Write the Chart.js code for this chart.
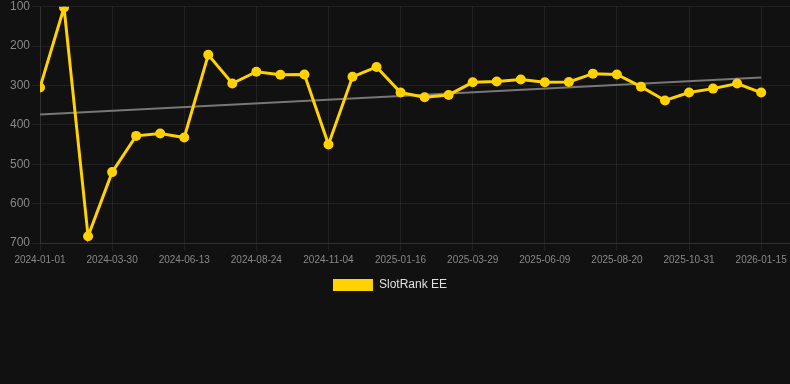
<!DOCTYPE html>
<html>
<head>
<meta charset="utf-8">
<script src="https://cdn.jsdelivr.net/npm/chart.js@4.4.0/dist/chart.umd.min.js"></script>
<style>
  html, body { margin: 0; padding: 0; background: #111111; }
  #wrap { width: 790px; height: 301px; position: relative; }
</style>
</head>
<body>
<div id="wrap"><canvas id="chart-rank"></canvas></div>
<script>
// SlotRank EE - rank history (lower is better, axis reversed)

const dates = [
  "2024-01-01", "2024-01-30", "2024-02-28", "2024-03-30", "2024-04-24", "2024-05-19",
  "2024-06-13", "2024-07-07", "2024-07-31", "2024-08-24", "2024-09-17", "2024-10-11",
  "2024-11-04", "2024-11-28", "2024-12-23", "2025-01-16", "2025-02-09", "2025-03-05",
  "2025-03-29", "2025-04-22", "2025-05-16", "2025-06-09", "2025-07-03", "2025-07-27",
  "2025-08-20", "2025-09-13", "2025-10-07", "2025-10-31", "2025-11-25", "2025-12-20",
  "2026-01-15"
];

const rankValues = [
  305, 102, 683, 520, 428, 422, 432, 222, 295, 265, 273,
  272, 450, 278, 253, 318, 330, 324, 292, 290, 285,
  292, 291, 270, 272, 303, 338, 318, 308, 295, 318
];

// trend line, first and last date
const trendIndex = [0, 30];
const trendValues = [374, 280];

const yTicks = [100, 200, 300, 400, 500, 600, 700];

const gridColor = "rgba(255,255,255,0.07)";

document.addEventListener("DOMContentLoaded", () => {
  renderRankChart();
});

function renderRankChart() {
  const points = rankValues.map((v, i) => ({ x: i, y: v }));
  const trend = trendIndex.map((x, i) => ({ x, y: trendValues[i] }));

  // legend sits a few px left of centre in the original
  const legendShift = {
    id: "legendShift",
    beforeDraw(chart) {
      const lg = chart.legend;
      if (!lg || lg._shifted) return;
      lg.left -= 5;
      lg.right -= 5;
      lg._shifted = true;
    }
  };

  new Chart(document.getElementById("chart-rank"), {
    type: "line",
    data: {
      datasets: [
        {
          label: "SlotRank EE",
          data: points,
          borderColor: "#ffd200",
          backgroundColor: "#ffd200",
          borderWidth: 3,
          pointRadius: 5,
          pointBackgroundColor: "#ffd200",
          pointBorderColor: "#ffd200",
          pointBorderWidth: 0,
          tension: 0,
          order: 1
        },
        {
          label: "trend",
          data: trend,
          borderColor: "#777777",
          borderWidth: 2,
          pointRadius: 0,
          fill: false,
          order: 2
        }
      ]
    },
    plugins: [legendShift],
    options: {
      responsive: true,
      maintainAspectRatio: false,
      animation: false,
      layout: { autoPadding: false, padding: 0 },
      plugins: {
        legend: {
          position: "bottom",
          labels: {
            color: "#e0e0e0",
            font: { size: 12 },
            boxWidth: 40,
            boxHeight: 12,
            filter: item => item.text !== "trend",
            generateLabels: chart => {
              const items = Chart.defaults.plugins.legend.labels.generateLabels(chart);
              items.forEach(it => { it.lineWidth = 0; });
              return items;
            }
          }
        },
        tooltip: { enabled: false }
      },
      scales: {
        x: {
          type: "linear",
          min: 0,
          max: 31.2,
          grid: { color: gridColor },
          border: { color: gridColor },
          afterFit: axis => { axis.paddingLeft = 0; axis.paddingRight = 0; },
          ticks: {
            stepSize: 3,
            includeBounds: false,
            autoSkip: false,
            maxRotation: 0,
            color: "#888888",
            font: { size: 10 },
            callback: v => dates[v] ?? null
          }
        },
        y: {
          reverse: true,
          min: yTicks[0],
          max: yTicks[yTicks.length - 1],
          grid: { color: gridColor },
          border: { color: gridColor },
          afterBuildTicks: axis => { axis.ticks = yTicks.map(v => ({ value: v })); },
          afterFit: axis => { axis.width = 40; axis.paddingTop = 6.7; },
          ticks: {
            padding: 2,
            color: "#888888",
            font: { size: 12 }
          }
        }
      }
    }
  });
}
</script>
</body>
</html>
